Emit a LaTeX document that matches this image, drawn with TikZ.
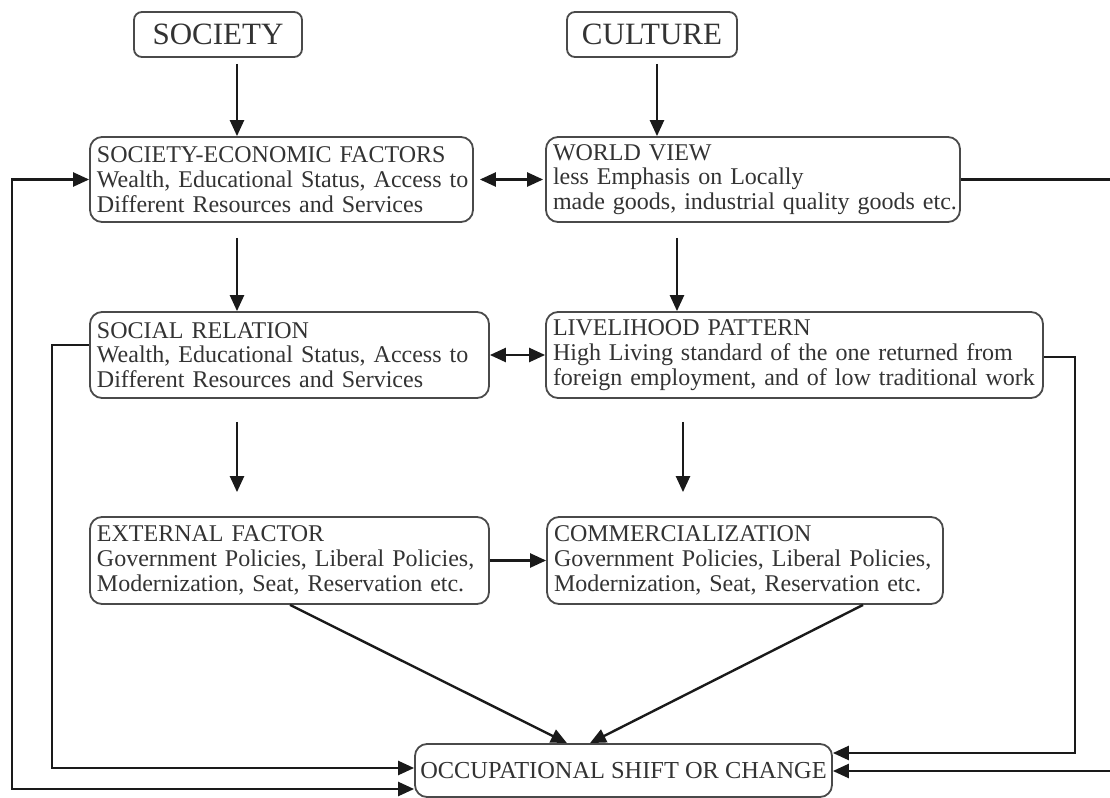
\documentclass[tikz,border=0pt]{standalone}
\usepackage{fontspec}
\setmainfont{Liberation Serif}
\usetikzlibrary{arrows.meta,calc}
\definecolor{txt}{HTML}{333333}
\definecolor{brd}{HTML}{4A4A4A}
\definecolor{ln}{HTML}{1A1A1A}
\newcommand{\Ln}[1]{\mbox{#1}}
\tikzset{
  box/.style={draw=brd, line width=0.9pt, rounded corners=6pt, align=left,
    inner xsep=3.5pt, inner ysep=2pt, text=txt,
    font=\fontsize{12}{12.4}\selectfont},
  head/.style={draw=brd, line width=0.9pt, rounded corners=4pt, text=txt,
    font=\fontsize{15.5}{16}\selectfont, inner sep=0pt},
  arr/.style={draw=ln, line width=1.2pt, -{Triangle[length=8pt,width=7pt]}},
  dbl/.style={draw=ln, line width=1.2pt,
    {Triangle[length=8pt,width=7pt]}-{Triangle[length=8pt,width=7pt]}},
}
\begin{document}
\begin{tikzpicture}[x=0.5pt,y=-0.5pt]
\useasboundingbox (0,0) rectangle (1110,798);
\fill[white] (0,0) rectangle (1110,798);

% headers
\node[head, minimum width=84pt, minimum height=22.5pt] (soc) at (218,34.5) {SOCIETY};
\node[head, minimum width=85pt, minimum height=22.5pt] (cul) at (652,34.5) {CULTURE};

% row 1
\node[box, text width=184.5pt, minimum height=42.5pt] (sef) at (281.5,179.5)
  {\Ln{SOCIETY-ECONOMIC FACTORS}\\\Ln{Wealth, Educational Status, Access to}\\\Ln{Different Resources and Services}};
\node[box, text width=200pt, minimum height=42.5pt] (wv) at (753,179.5)
  {\Ln{WORLD VIEW}\\\Ln{less Emphasis on Locally}\\\Ln{made goods, industrial quality goods etc.}};

% row 2
\node[box, text width=192.5pt, minimum height=43pt] (sr) at (289.5,355)
  {\Ln{SOCIAL RELATION}\\\Ln{Wealth, Educational Status, Access to}\\\Ln{Different Resources and Services}};
\node[box, text width=241.5pt, minimum height=43pt] (lp) at (794.5,355)
  {\Ln{LIVELIHOOD PATTERN}\\\Ln{High Living standard of the one returned from}\\\Ln{foreign employment, and of low traditional work}};

% row 3
\node[box, text width=192.5pt, minimum height=43.5pt] (ef) at (289.5,560.5)
  {\Ln{EXTERNAL FACTOR}\\\Ln{Government Policies, Liberal Policies,}\\\Ln{Modernization, Seat, Reservation etc.}};
\node[box, text width=191pt, minimum height=43.5pt] (com) at (745,560.5)
  {\Ln{COMMERCIALIZATION}\\\Ln{Government Policies, Liberal Policies,}\\\Ln{Modernization, Seat, Reservation etc.}};

% bottom
\node[box, align=center, font=\fontsize{12.2}{12.4}\selectfont,
  minimum width=208.5pt, minimum height=26.5pt, inner xsep=0pt] (occ) at (623.5,770.5)
  {OCCUPATIONAL SHIFT OR CHANGE};

% helper coordinates
\coordinate (xA) at (237,0);
\coordinate (xB) at (657,0);
\coordinate (xC) at (677,0);
\coordinate (xD) at (683,0);
\coordinate (d1) at (290,0);
\coordinate (d2) at (567,0);
\coordinate (d3) at (863,0);
\coordinate (d4) at (590,0);
\coordinate (L1) at (12,789);
\coordinate (L2) at (52,768);
\coordinate (R1) at (1075,753);
\coordinate (R2) at (1114,771);

% vertical arrows
\draw[arr] ([yshift=-3pt]xA |- soc.south) -- (xA |- sef.north);
\draw[arr] ([yshift=-3pt]xB |- cul.south) -- (xB |- wv.north);
\draw[arr] ([yshift=-7.5pt]xA |- sef.south) -- (xA |- sr.north);
\draw[arr] ([yshift=-7.5pt]xC |- wv.south) -- (xC |- lp.north);
\draw[arr] ([yshift=-11.5pt]xA |- sr.south) -- ([yshift=12pt]xA |- ef.north);
\draw[arr] ([yshift=-11.5pt]xD |- lp.south) -- ([yshift=12pt]xD |- ef.north);

% horizontal links
\draw[dbl] ([xshift=3pt]sef.east) -- ([xshift=-1pt]wv.west);
\draw[dbl] (sr.east) -- (lp.west);
\draw[arr] (ef.east) -- (com.west);

% diagonals to OCC
\draw[arr] (d1 |- ef.south) -- (d2 |- occ.north);
\draw[arr] (d3 |- com.south) -- (d4 |- occ.north);

% left feedback lines
\draw[dbl] (sef.west) -| (L1) -- (L1 -| occ.west);
\draw[arr] ([yshift=5pt]sr.west) -| (L2) -- (L2 -| occ.west);

% right feedback lines
\draw[arr] ([yshift=-1pt]lp.east) -| (R1) -- (R1 -| occ.east);
\draw[arr] (wv.east) -| (R2) -- (R2 -| occ.east);
\end{tikzpicture}
\end{document}
